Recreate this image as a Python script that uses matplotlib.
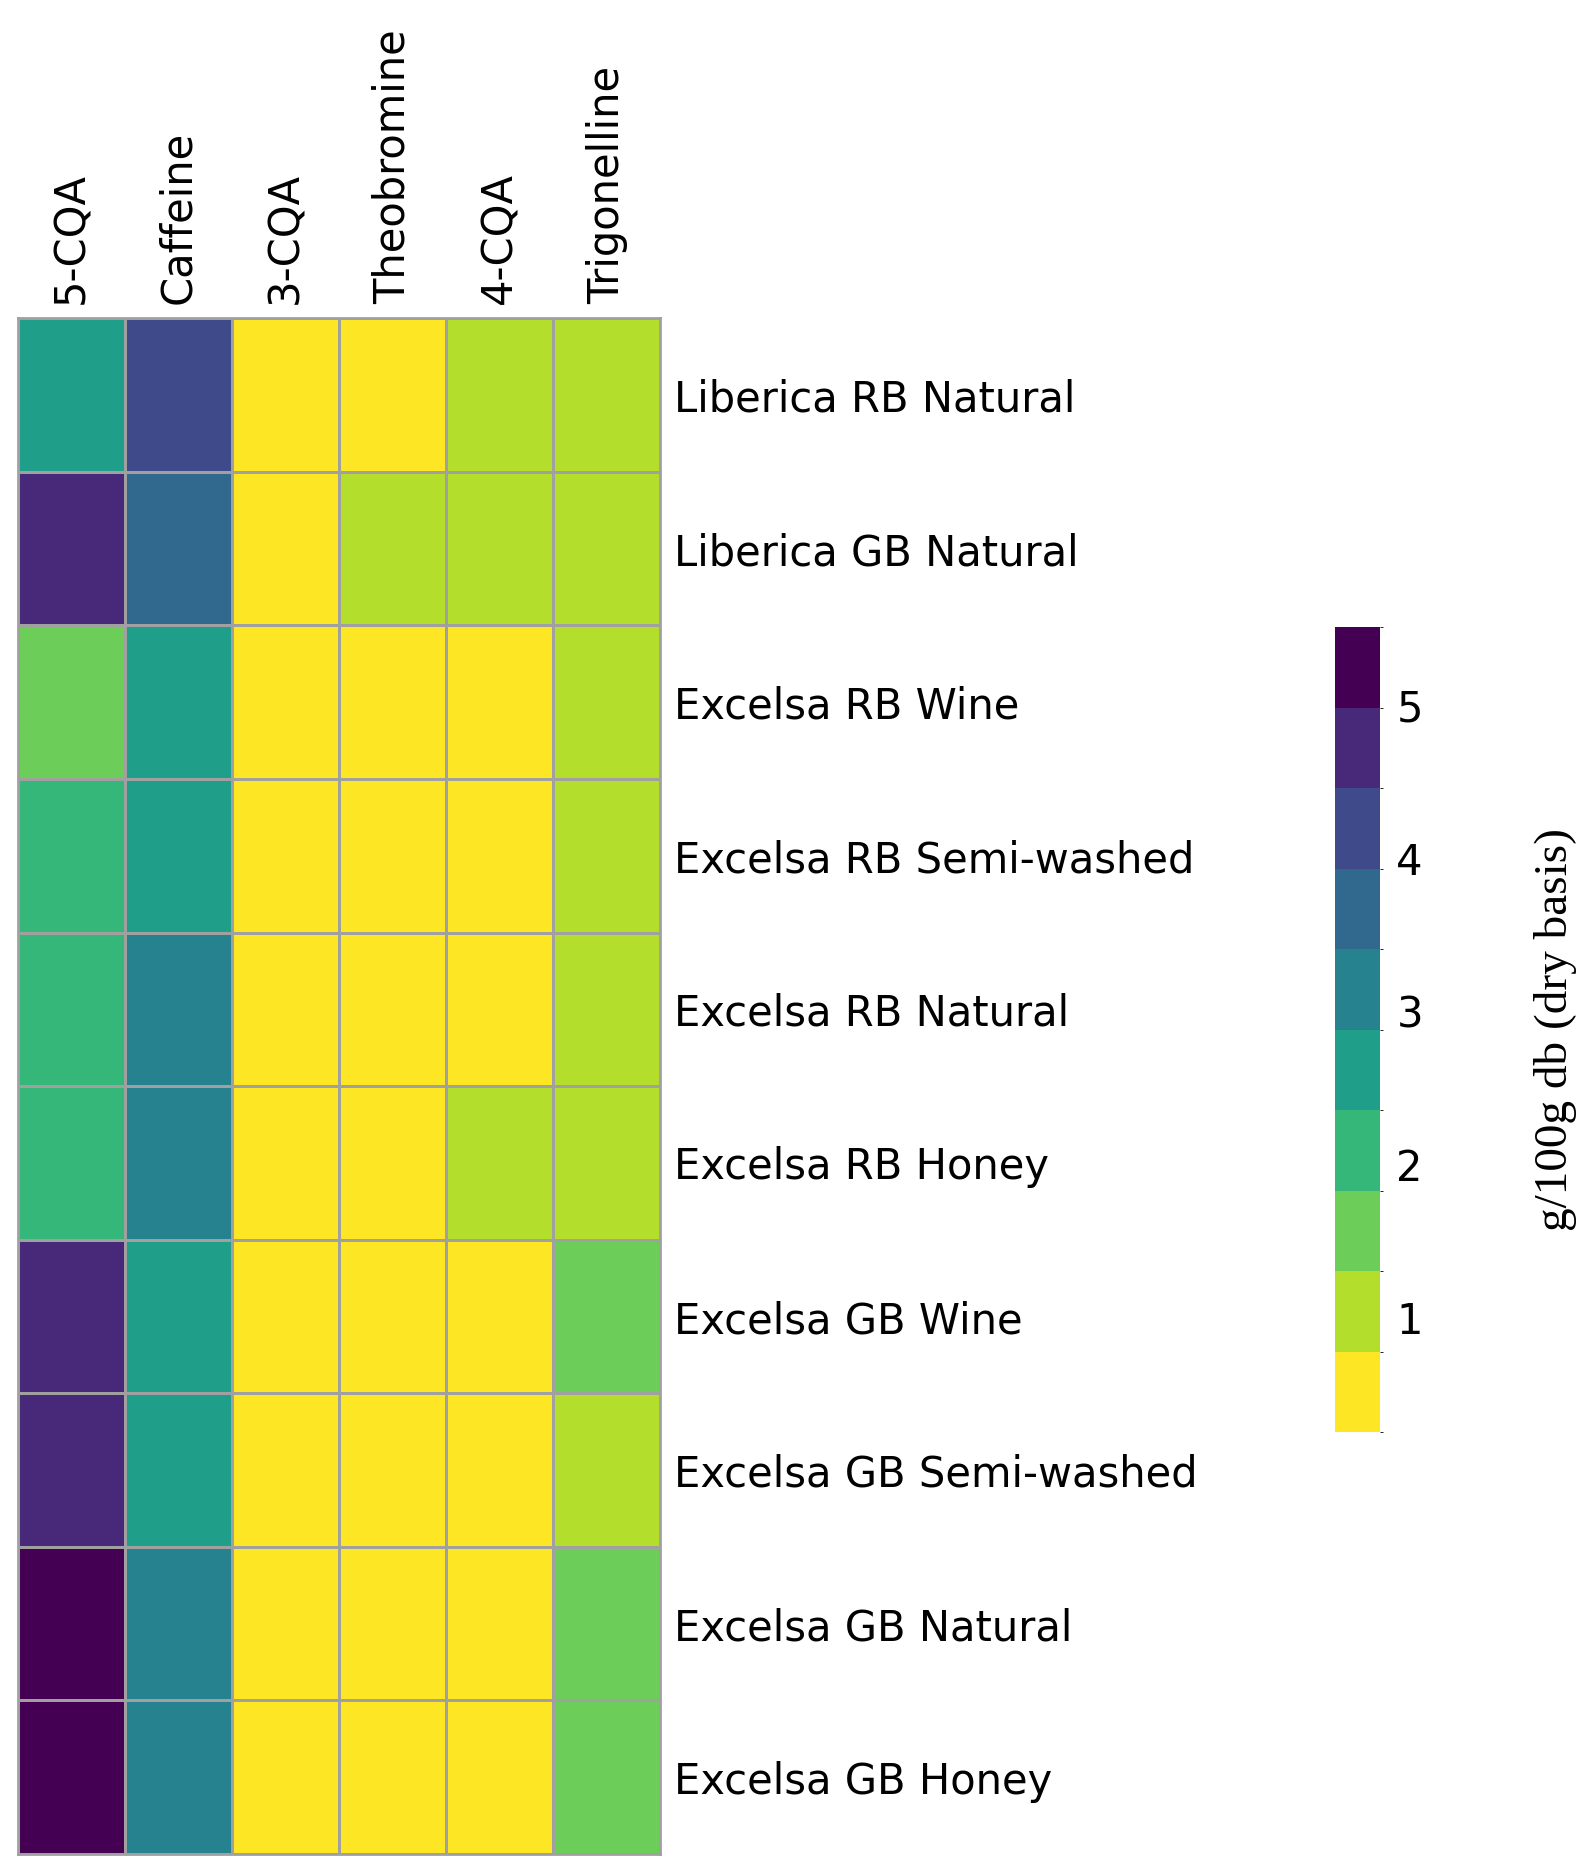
import numpy as np
import matplotlib.pyplot as plt
from matplotlib.colors import ListedColormap, BoundaryNorm

cols = ["5-CQA", "Caffeine", "3-CQA", "Theobromine", "4-CQA", "Trigonelline"]
rows = ["Liberica RB Natural", "Liberica GB Natural", "Excelsa RB Wine",
        "Excelsa RB Semi-washed", "Excelsa RB Natural", "Excelsa RB Honey",
        "Excelsa GB Wine", "Excelsa GB Semi-washed", "Excelsa GB Natural",
        "Excelsa GB Honey"]
vals = np.array([
    [2.6, 4.2, 0.4, 0.3, 1.0, 1.0],
    [4.7, 3.6, 0.4, 1.0, 1.0, 1.1],
    [1.5, 2.6, 0.4, 0.3, 0.5, 1.0],
    [2.1, 2.6, 0.4, 0.3, 0.5, 1.0],
    [2.1, 3.1, 0.4, 0.3, 0.5, 1.0],
    [2.1, 3.1, 0.4, 0.3, 0.9, 1.0],
    [4.7, 2.6, 0.4, 0.3, 0.5, 1.5],
    [4.7, 2.6, 0.4, 0.3, 0.5, 1.1],
    [5.4, 3.1, 0.4, 0.3, 0.5, 1.5],
    [5.4, 3.1, 0.4, 0.3, 0.5, 1.5],
])
colors = ["#FDE725", "#B4DE2C", "#6DCD59", "#35B779", "#1F9E89",
          "#26828E", "#31688E", "#3E4A89", "#482878", "#440154"]
bounds = np.linspace(0.25, 5.51, 11)
cmap = ListedColormap(colors)
norm = BoundaryNorm(bounds, cmap.N)

fig = plt.figure(figsize=(15.95, 18.72), dpi=100)
ax = fig.add_axes([0.011, 0.0096, 0.403, 0.8204])
m = ax.pcolormesh(vals, cmap=cmap, norm=norm, edgecolors="#A0A0A0", linewidth=2)
ax.set_xlim(0, 6); ax.set_ylim(10, 0)
ax.set_xticks(np.arange(6) + 0.5)
ax.set_xticklabels(cols, rotation=90, fontsize=30)
ax.xaxis.tick_top()
ax.set_yticks(np.arange(10) + 0.5)
ax.set_yticklabels(rows, fontsize=30)
ax.yaxis.tick_right()
ax.tick_params(length=0, pad=10)
for s in ax.spines.values():
    s.set_color("#A0A0A0"); s.set_linewidth(2)

cax = fig.add_axes([0.837, 0.235, 0.028, 0.43])
cb = fig.colorbar(m, cax=cax, ticks=[1, 2, 3, 4, 5])
cb.outline.set_visible(False)
cax.tick_params(length=0, labelsize=30, pad=12)
fig.text(0.975, 0.45, "g/100g db (dry basis)", rotation=90, va="center", ha="center",
         family="Liberation Serif", fontsize=34)
fig.savefig("out.png")
